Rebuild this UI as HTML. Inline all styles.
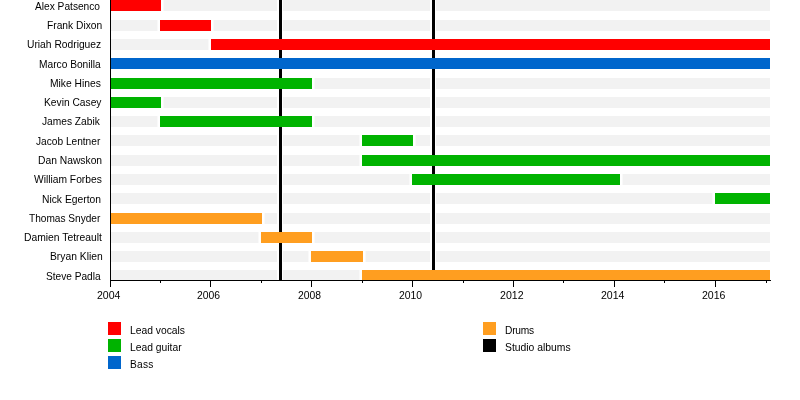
<!DOCTYPE html>
<html><head><meta charset="utf-8"><style>
html,body{margin:0;padding:0;background:#fff;}
body{width:800px;height:400px;position:relative;overflow:hidden;font-family:"Liberation Sans",sans-serif;color:#000;}
.gb{position:absolute;left:110px;width:660px;height:11px;background:#f2f2f2;}
.bar{position:absolute;height:11px;}
.al{position:absolute;top:0;width:3px;height:280px;background:#000;}
.hw{position:absolute;top:0;height:280px;background:#fff;}
.hb{position:absolute;height:11px;background:#fff;}
.k{position:absolute;background:#000;}
.t{position:absolute;font-size:10.2px;line-height:1;height:10.2px;white-space:nowrap;transform-origin:0 0;will-change:transform;}
</style></head><body>
<div class="gb" style="top:0px"></div>
<div class="gb" style="top:20px"></div>
<div class="gb" style="top:39px"></div>
<div class="gb" style="top:58px"></div>
<div class="gb" style="top:78px"></div>
<div class="gb" style="top:97px"></div>
<div class="gb" style="top:116px"></div>
<div class="gb" style="top:135px"></div>
<div class="gb" style="top:155px"></div>
<div class="gb" style="top:174px"></div>
<div class="gb" style="top:193px"></div>
<div class="gb" style="top:213px"></div>
<div class="gb" style="top:232px"></div>
<div class="gb" style="top:251px"></div>
<div class="gb" style="top:270px"></div>
<div class="hb" style="top:0px;left:161px;width:2px"></div>
<div class="hb" style="top:0px;left:163px;width:1px;background:#f9f9f9"></div>
<div class="hb" style="top:20px;left:157px;width:1px;background:#f9f9f9"></div>
<div class="hb" style="top:20px;left:158px;width:2px"></div>
<div class="hb" style="top:20px;left:211px;width:2px"></div>
<div class="hb" style="top:20px;left:213px;width:1px;background:#f9f9f9"></div>
<div class="hb" style="top:39px;left:208px;width:1px;background:#f9f9f9"></div>
<div class="hb" style="top:39px;left:209px;width:2px"></div>
<div class="hb" style="top:78px;left:312px;width:2px"></div>
<div class="hb" style="top:78px;left:314px;width:1px;background:#f9f9f9"></div>
<div class="hb" style="top:97px;left:161px;width:2px"></div>
<div class="hb" style="top:97px;left:163px;width:1px;background:#f9f9f9"></div>
<div class="hb" style="top:116px;left:157px;width:1px;background:#f9f9f9"></div>
<div class="hb" style="top:116px;left:158px;width:2px"></div>
<div class="hb" style="top:116px;left:312px;width:2px"></div>
<div class="hb" style="top:116px;left:314px;width:1px;background:#f9f9f9"></div>
<div class="hb" style="top:135px;left:359px;width:1px;background:#f9f9f9"></div>
<div class="hb" style="top:135px;left:360px;width:2px"></div>
<div class="hb" style="top:135px;left:413px;width:2px"></div>
<div class="hb" style="top:135px;left:415px;width:1px;background:#f9f9f9"></div>
<div class="hb" style="top:155px;left:359px;width:1px;background:#f9f9f9"></div>
<div class="hb" style="top:155px;left:360px;width:2px"></div>
<div class="hb" style="top:174px;left:409px;width:1px;background:#f9f9f9"></div>
<div class="hb" style="top:174px;left:410px;width:2px"></div>
<div class="hb" style="top:174px;left:620px;width:2px"></div>
<div class="hb" style="top:174px;left:622px;width:1px;background:#f9f9f9"></div>
<div class="hb" style="top:193px;left:712px;width:1px;background:#f9f9f9"></div>
<div class="hb" style="top:193px;left:713px;width:2px"></div>
<div class="hb" style="top:213px;left:262px;width:2px"></div>
<div class="hb" style="top:213px;left:264px;width:1px;background:#f9f9f9"></div>
<div class="hb" style="top:232px;left:258px;width:1px;background:#f9f9f9"></div>
<div class="hb" style="top:232px;left:259px;width:2px"></div>
<div class="hb" style="top:232px;left:312px;width:2px"></div>
<div class="hb" style="top:232px;left:314px;width:1px;background:#f9f9f9"></div>
<div class="hb" style="top:251px;left:308px;width:1px;background:#f9f9f9"></div>
<div class="hb" style="top:251px;left:309px;width:2px"></div>
<div class="hb" style="top:251px;left:363px;width:2px"></div>
<div class="hb" style="top:251px;left:365px;width:1px;background:#f9f9f9"></div>
<div class="hb" style="top:270px;left:359px;width:1px;background:#f9f9f9"></div>
<div class="hb" style="top:270px;left:360px;width:2px"></div>
<div class="hw" style="left:277px;width:2px"></div>
<div class="hw" style="left:282px;width:1px"></div>
<div class="al" style="left:279px"></div>
<div class="hw" style="left:430px;width:2px"></div>
<div class="hw" style="left:435px;width:1px"></div>
<div class="al" style="left:432px"></div>
<div class="bar" style="top:0px;left:110px;width:51px;background:#ff0000"></div>
<div class="bar" style="top:20px;left:160px;width:51px;background:#ff0000"></div>
<div class="bar" style="top:39px;left:211px;width:559px;background:#ff0000"></div>
<div class="bar" style="top:58px;left:110px;width:660px;background:#0066cc"></div>
<div class="bar" style="top:78px;left:110px;width:202px;background:#00b300"></div>
<div class="bar" style="top:97px;left:110px;width:51px;background:#00b300"></div>
<div class="bar" style="top:116px;left:160px;width:152px;background:#00b300"></div>
<div class="bar" style="top:135px;left:362px;width:51px;background:#00b300"></div>
<div class="bar" style="top:155px;left:362px;width:408px;background:#00b300"></div>
<div class="bar" style="top:174px;left:412px;width:208px;background:#00b300"></div>
<div class="bar" style="top:193px;left:715px;width:55px;background:#00b300"></div>
<div class="bar" style="top:213px;left:110px;width:152px;background:#ff9e20"></div>
<div class="bar" style="top:232px;left:261px;width:51px;background:#ff9e20"></div>
<div class="bar" style="top:251px;left:311px;width:52px;background:#ff9e20"></div>
<div class="bar" style="top:270px;left:362px;width:408px;background:#ff9e20"></div>
<div class="k" style="left:110px;top:0;width:1px;height:281px"></div>
<div class="k" style="left:110px;top:280px;width:661px;height:1px"></div>
<div class="k" style="left:110px;top:281px;width:1px;height:6px"></div>
<div class="t" id="y2004" style="left:96.60px;top:290.27px;font-size:10.547px">2004</div>
<div class="k" style="left:160px;top:281px;width:1px;height:2px"></div>
<div class="k" style="left:210px;top:281px;width:1px;height:6px"></div>
<div class="t" id="y2006" style="left:196.50px;top:291.20px;font-size:10.398px">2006</div>
<div class="k" style="left:261px;top:281px;width:1px;height:2px"></div>
<div class="k" style="left:311px;top:281px;width:1px;height:6px"></div>
<div class="t" id="y2008" style="left:297.65px;top:291.23px;font-size:10.358px">2008</div>
<div class="k" style="left:362px;top:281px;width:1px;height:2px"></div>
<div class="k" style="left:412px;top:281px;width:1px;height:6px"></div>
<div class="t" id="y2010" style="left:398.52px;top:291.17px;font-size:10.427px">2010</div>
<div class="k" style="left:463px;top:281px;width:1px;height:2px"></div>
<div class="k" style="left:513px;top:281px;width:1px;height:6px"></div>
<div class="t" id="y2012" style="left:499.61px;top:290.04px;font-size:10.583px">2012</div>
<div class="k" style="left:563px;top:281px;width:1px;height:2px"></div>
<div class="k" style="left:614px;top:281px;width:1px;height:6px"></div>
<div class="t" id="y2014" style="left:600.62px;top:290.07px;font-size:10.547px">2014</div>
<div class="k" style="left:664px;top:281px;width:1px;height:2px"></div>
<div class="k" style="left:715px;top:281px;width:1px;height:6px"></div>
<div class="t" id="y2016" style="left:701.64px;top:290.05px;font-size:10.579px">2016</div>
<div class="k" style="left:766px;top:281px;width:1px;height:2px"></div>
<div class="t" id="l0" style="left:34.69px;top:1.58px;font-size:10.184px">Alex Patsenco</div>
<div class="t" id="l1" style="left:46.52px;top:21.13px;font-size:10.240px">Frank Dixon</div>
<div class="t" id="l2" style="left:26.59px;top:40.30px;font-size:10.276px">Uriah Rodriguez</div>
<div class="t" id="l3" style="left:38.62px;top:59.57px;font-size:10.200px">Marco Bonilla</div>
<div class="t" id="l4" style="left:49.52px;top:79.07px;font-size:10.318px">Mike Hines</div>
<div class="t" id="l5" style="left:43.59px;top:98.33px;font-size:10.242px">Kevin Casey</div>
<div class="t" id="l6" style="left:41.60px;top:117.37px;font-size:10.200px">James Zabik</div>
<div class="t" id="l7" style="left:35.59px;top:137.20px;font-size:10.159px">Jacob Lentner</div>
<div class="t" id="l8" style="left:37.69px;top:156.08px;font-size:10.307px">Dan Nawskon</div>
<div class="t" id="l9" style="left:33.67px;top:174.71px;font-size:10.264px">William Forbes</div>
<div class="t" id="l10" style="left:41.67px;top:195.27px;font-size:10.311px">Nick Egerton</div>
<div class="t" id="l11" style="left:28.55px;top:214.43px;font-size:10.122px">Thomas Snyder</div>
<div class="t" id="l12" style="left:23.66px;top:233.25px;font-size:10.338px">Damien Tetreault</div>
<div class="t" id="l13" style="left:49.52px;top:252.28px;font-size:10.301px">Bryan Klien</div>
<div class="t" id="l14" style="left:45.53px;top:272.22px;font-size:10.134px">Steve Padla</div>
<div style="position:absolute;left:108px;top:322px;width:13px;height:13px;background:#ff0000"></div>
<div class="t" id="g0" style="left:129.61px;top:325.87px;font-size:10.317px">Lead vocals</div>
<div style="position:absolute;left:108px;top:339px;width:13px;height:13px;background:#00b300"></div>
<div class="t" id="g1" style="left:129.61px;top:343.46px;font-size:10.324px">Lead guitar</div>
<div style="position:absolute;left:108px;top:356px;width:13px;height:13px;background:#0066cc"></div>
<div class="t" id="g2" style="left:129.55px;top:360.17px;font-size:10.200px;letter-spacing:0.27px">Bass</div>
<div style="position:absolute;left:483px;top:322px;width:13px;height:13px;background:#ff9e20"></div>
<div class="t" id="g3" style="left:504.91px;top:326.17px;font-size:10.200px;letter-spacing:-0.2px">Drums</div>
<div style="position:absolute;left:483px;top:339px;width:13px;height:13px;background:#000000"></div>
<div class="t" id="g4" style="left:504.51px;top:343.43px;font-size:10.364px">Studio albums</div>
</body></html>
